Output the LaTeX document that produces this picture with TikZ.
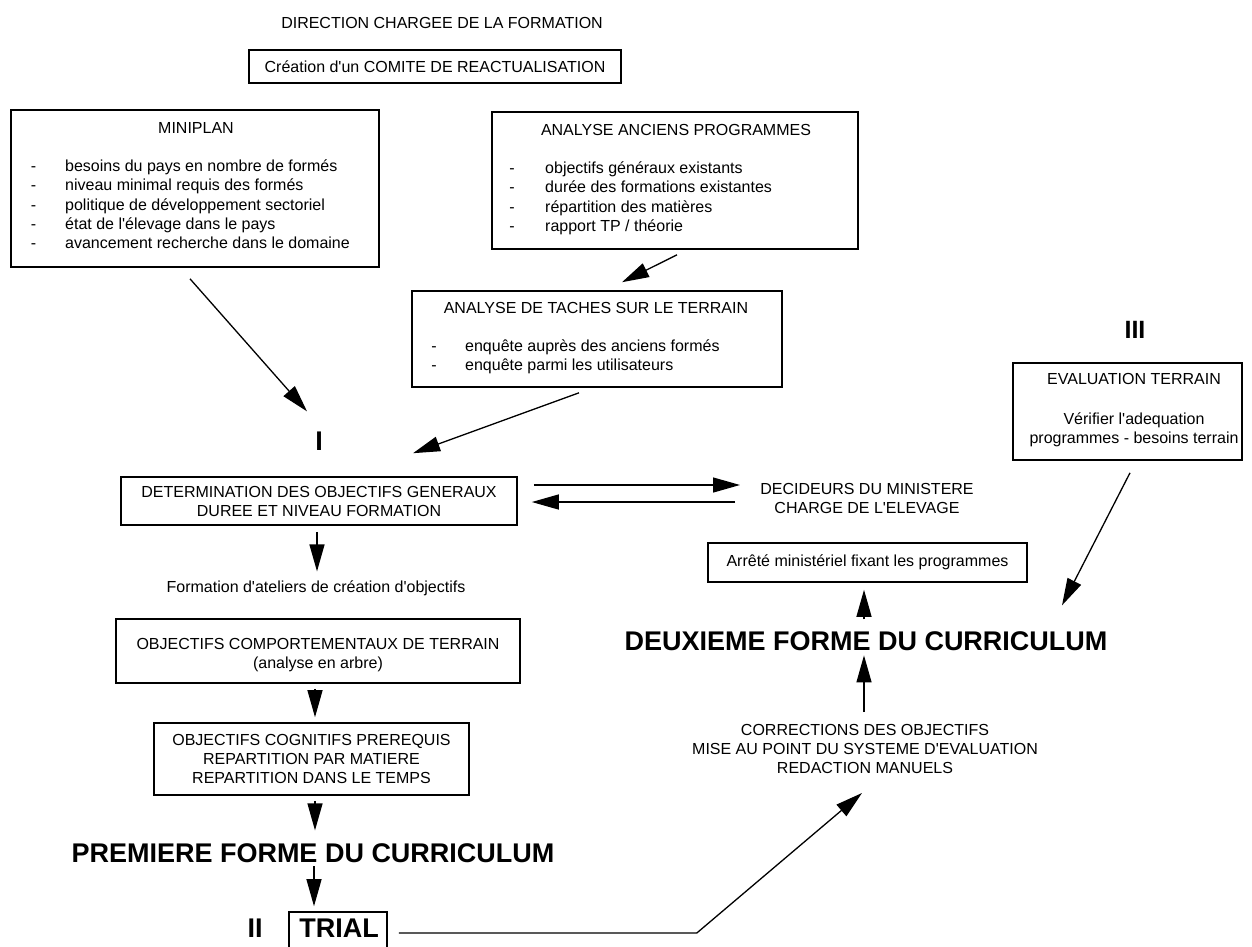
\documentclass[tikz,border=0pt]{standalone}
\usepackage{fontspec}
\setmainfont{Liberation Sans}
\usetikzlibrary{arrows.meta,calc}
\newcommand{\q}{\textquotesingle}
\begin{document}
\begin{tikzpicture}[x=1pt,y=-1pt,
  every node/.style={inner sep=0pt, font=\fontsize{16}{19}\selectfont},
  boxn/.style={draw, line width=1.6pt},
  txt/.style={anchor=mid},
  item/.style={anchor=mid west},
  ctext/.style={align=center},
  bigtext/.style={font=\fontsize{27}{30}\selectfont\bfseries},
  arr/.style={line width=1.3pt, -{Triangle[length=27pt,width=15pt]}},
]
\fill[white] (0,0) rectangle (1252,946);
\clip (0,0) rectangle (1252,946);

% top
\node[txt] (dir) at (442,26) {DIRECTION CHARGEE DE LA FORMATION};
\node[boxn, minimum width=372pt, minimum height=33pt] (comite) at (435,66.5) {Cr\'eation d\q un COMITE DE REACTUALISATION};

% MINIPLAN
\node[boxn, minimum width=368pt, minimum height=157pt] (mini) at (195,188.5) {};
\node[txt] (miniT) at (196,131) {MINIPLAN};
\foreach \y in {169,188,208,227,246} \node[txt] at (33.5,\y) {-};
\node[item] (m1) at (65,169) {besoins du pays en nombre de form\'es};
\node[item] (m2) at (65,188) {niveau minimal requis des form\'es};
\node[item] (m3) at (65,208) {politique de d\'eveloppement sectoriel};
\node[item] (m4) at (65,227) {\'etat de l\q\'elevage dans le pays};
\node[item] (m5) at (65,246) {avancement recherche dans le domaine};

% ANALYSE ANCIENS PROGRAMMES
\node[boxn, minimum width=366pt, minimum height=137pt] (anc) at (675,180.5) {};
\node[txt] (ancT) at (676,133) {ANALYSE ANCIENS PROGRAMMES};
\foreach \y in {171,190,210,229} \node[txt] at (512,\y) {-};
\node[item] (a1) at (545,171) {objectifs g\'en\'eraux existants};
\node[item] (a2) at (545,190) {dur\'ee des formations existantes};
\node[item] (a3) at (545,210) {r\'epartition des mati\`eres};
\node[item] (a4) at (545,229) {rapport TP / th\'eorie};

% ANALYSE DE TACHES
\node[boxn, minimum width=370pt, minimum height=96pt] (taches) at (597,339) {};
\node[txt] (tachesT) at (596,311) {ANALYSE DE TACHES SUR LE TERRAIN};
\foreach \y in {349,368} \node[txt] at (434,\y) {-};
\node[item] (t1) at (465,349) {enqu\^ete aupr\`es des anciens form\'es};
\node[item] (t2) at (465,368) {enqu\^ete parmi les utilisateurs};

% III and EVALUATION
\node[txt, font=\fontsize{25}{28}\selectfont\bfseries] (III) at (1135,336) {III};
\node[boxn, minimum width=229pt, minimum height=97pt] (eval) at (1127.5,411.5) {};
\node[txt] (evalT) at (1134,382) {EVALUATION TERRAIN};
\node[ctext] (evalB) at (1134,429.5) {V\'erifier l\q adequation\\programmes - besoins terrain};

% I and DETERMINATION
\node[txt, bigtext] (I) at (319,448) {I};
\node[boxn, minimum width=396pt, minimum height=48pt, ctext] (det) at (319,501) {DETERMINATION DES OBJECTIFS GENERAUX\\DUREE ET NIVEAU FORMATION};
\node[ctext] (dec) at (867,498) {DECIDEURS DU MINISTERE\\CHARGE DE L\q ELEVAGE};

\node[txt] (form) at (316,590) {Formation d\q ateliers de cr\'eation d\q objectifs};

\node[boxn, minimum width=404pt, minimum height=64pt] (comp) at (318,651) {};
\node[ctext] (compT) at (318,655) {OBJECTIFS COMPORTEMENTAUX DE TERRAIN\\(analyse en arbre)};

\node[boxn, minimum width=315pt, minimum height=72pt, ctext] (cogn) at (311.5,759) {OBJECTIFS COGNITIFS PREREQUIS\\REPARTITION PAR MATIERE\\REPARTITION DANS LE TEMPS};

\node[txt, bigtext] (prem) at (313,860) {PREMIERE FORME DU CURRICULUM};
\node[txt, bigtext] (II) at (255,935) {II};
\node[boxn, minimum width=98pt, minimum height=40pt] (trial) at (338,932) {};
\node[txt, bigtext] (trialT) at (339,935) {TRIAL};

% right column
\node[boxn, minimum width=319pt, minimum height=39pt] (arrete) at (867.5,562.5) {Arr\^et\'e minist\'eriel fixant les programmes};
\node[txt, bigtext] (deux) at (866,648) {DEUXIEME FORME DU CURRICULUM};
\node[ctext] (corr) at (865,749) {CORRECTIONS DES OBJECTIFS\\MISE AU POINT DU SYSTEME D\q EVALUATION\\REDACTION MANUELS};

% connectors
\draw[arr] ($(anc.south)+(2,5)$) -- ($(taches.north)+(25,-8)$);
\draw[arr] ($(mini.south)+(-5,11)$) -- ($(I)+(-12,-30)$);
\draw[arr] ($(taches.south)+(-18,5)$) -- ($(det.north)+(94,-23)$);
\draw[arr] ($(det.east)+(16,-16)$) -- ($(dec)+(-127,-13)$);
\draw[arr] ($(dec)+(-132,4)$) -- ($(det.east)+(14,1)$);
\draw[arr] ($(det.south)+(-2,6)$) -- ($(form)+(1,-17)$);
\draw[arr] ($(comp.south)+(-3,5)$) -- ($(cogn.north)+(3.5,-5)$);
\draw[arr] ($(cogn.south)+(3.5,5)$) -- ($(prem)+(2,-23)$);
\draw[arr] ($(prem)+(1,13)$) -- ($(trial.north)+(-24,-5)$);
\draw[arr] ($(trial.east)+(11,1)$) -- ++(298,0) -- ($(corr)+(-3,44)$);
\draw[arr] ($(corr)+(-1,-37)$) -- ($(deux)+(-2,14)$);
\draw[arr] ($(deux)+(-2,-22)$) -- ($(arrete.south)+(-3.5,7)$);
\draw[arr] ($(eval.south)+(2.5,12)$) -- ($(deux)+(196,-36)$);
\end{tikzpicture}
\end{document}
